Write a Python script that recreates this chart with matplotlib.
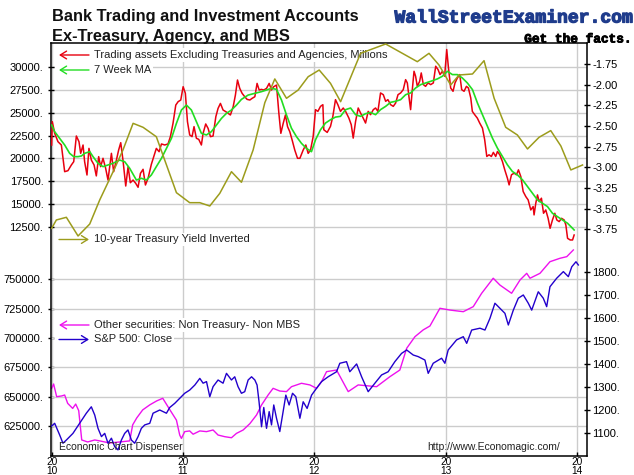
import matplotlib
matplotlib.use("Agg")
import matplotlib.pyplot as plt
from matplotlib.patches import Rectangle
from matplotlib.transforms import blended_transform_factory
import matplotlib.patheffects as pe

plt.rcParams['font.family'] = ['Liberation Sans', 'DejaVu Sans']

# ---------------- data (decimal year, value) ----------------
trading_assets = [
    (2010.000, 21467), (2010.005, 24009), (2010.023, 22738), (2010.048, 21830), (2010.074, 21467),
    (2010.099, 18562), (2010.124, 18670), (2010.150, 19290), (2010.168, 19650), (2010.188, 22450),
    (2010.208, 21830), (2010.221, 20560), (2010.239, 21467), (2010.251, 19650), (2010.269, 18200),
    (2010.284, 21100), (2010.302, 19830), (2010.323, 19290), (2010.340, 18100), (2010.358, 20200),
    (2010.373, 19110), (2010.391, 20020), (2010.411, 18930), (2010.429, 17650), (2010.455, 20560),
    (2010.472, 18560), (2010.493, 19830), (2010.510, 20920), (2010.526, 21720), (2010.543, 19830),
    (2010.564, 17000), (2010.582, 19110), (2010.599, 17360), (2010.620, 17650), (2010.640, 17290),
    (2010.658, 16860), (2010.676, 18380), (2010.696, 18820), (2010.714, 17110), (2010.734, 17840),
    (2010.759, 19360), (2010.777, 20200), (2010.797, 21100), (2010.818, 20740), (2010.836, 21580),
    (2010.861, 21470), (2010.886, 21580), (2010.904, 22380), (2010.924, 23830), (2010.945, 25820),
    (2010.963, 26190), (2010.983, 26370), (2011.001, 27820), (2011.018, 27100), (2011.034, 24010),
    (2011.051, 22560), (2011.069, 22380), (2011.084, 23470), (2011.102, 22200), (2011.120, 22080),
    (2011.140, 21470), (2011.153, 22740), (2011.173, 23760), (2011.191, 23280), (2011.209, 22380),
    (2011.229, 22450), (2011.250, 24550), (2011.267, 25460), (2011.285, 26000), (2011.305, 25280),
    (2011.326, 25100), (2011.343, 24920), (2011.361, 24740), (2011.382, 25640), (2011.399, 26910),
    (2011.415, 28550), (2011.432, 27640), (2011.450, 27100), (2011.470, 26730), (2011.488, 26440),
    (2011.509, 26370), (2011.526, 26550), (2011.547, 26730), (2011.564, 28180), (2011.580, 27460),
    (2011.597, 27530), (2011.615, 27460), (2011.636, 27640), (2011.656, 28180), (2011.674, 27460),
    (2011.691, 27820), (2011.712, 28000), (2011.730, 24920), (2011.745, 22740), (2011.763, 23830),
    (2011.780, 24740), (2011.796, 23470), (2011.813, 22920), (2011.831, 22010), (2011.851, 20920),
    (2011.872, 20020), (2011.890, 20020), (2011.915, 20920), (2011.935, 21470), (2011.953, 20560),
    (2011.971, 20920), (2011.991, 22380),
    (2012.009, 25320), (2012.027, 25130), (2012.047, 25680), (2012.065, 25860), (2012.072, 23130),
    (2012.098, 22840), (2012.123, 23500), (2012.141, 24590), (2012.161, 26410), (2012.179, 25860),
    (2012.199, 25130), (2012.220, 25500), (2012.238, 25130), (2012.263, 24400), (2012.281, 23680),
    (2012.296, 22220), (2012.314, 24040), (2012.334, 25500), (2012.352, 24950), (2012.372, 24400),
    (2012.390, 23860), (2012.410, 25130), (2012.428, 24770), (2012.449, 25320), (2012.466, 25500),
    (2012.484, 25130), (2012.504, 27140), (2012.525, 26950), (2012.543, 26230), (2012.560, 26410),
    (2012.581, 25860), (2012.601, 25680), (2012.619, 26040), (2012.637, 26950), (2012.657, 27140),
    (2012.677, 27500), (2012.695, 28590), (2012.708, 28230), (2012.720, 26770), (2012.733, 25320),
    (2012.746, 27500), (2012.759, 29500), (2012.771, 28960), (2012.784, 27860), (2012.802, 28410),
    (2012.814, 29320), (2012.830, 28050), (2012.847, 27860), (2012.865, 28230), (2012.886, 28050),
    (2012.906, 28230), (2012.924, 30050), (2012.942, 29680), (2012.957, 29140), (2012.975, 29500),
    (2012.992, 28960), (2013.008, 31870), (2013.020, 30050), (2013.038, 27680), (2013.056, 27320),
    (2013.071, 28230), (2013.089, 28770), (2013.107, 29140), (2013.122, 27500), (2013.140, 27320),
    (2013.158, 27860), (2013.173, 27680), (2013.191, 26590), (2013.203, 25130), (2013.221, 24770),
    (2013.241, 24400), (2013.259, 23860), (2013.280, 23310), (2013.297, 22040), (2013.313, 20220),
    (2013.330, 20400), (2013.348, 20220), (2013.363, 20660), (2013.381, 20220), (2013.394, 20760),
    (2013.412, 20400), (2013.432, 19670), (2013.450, 18760), (2013.470, 17850), (2013.483, 17120),
    (2013.501, 18220), (2013.521, 18400), (2013.539, 18220), (2013.554, 18760), (2013.572, 18030),
    (2013.590, 16400), (2013.610, 15850), (2013.628, 15480), (2013.648, 14390), (2013.666, 14760),
    (2013.673, 13850), (2013.686, 15120), (2013.699, 16030), (2013.712, 15300), (2013.729, 15670),
    (2013.745, 14030), (2013.762, 14390), (2013.780, 13480), (2013.795, 12390), (2013.813, 13300),
    (2013.831, 14030), (2013.846, 13300), (2013.864, 13120), (2013.882, 13480), (2013.902, 13300),
    (2013.915, 12750), (2013.928, 11300), (2013.948, 11120), (2013.966, 11120), (2013.978, 11660),
]

ma_7week = [
    (2010.000, 23646), (2010.023, 22920), (2010.061, 22190), (2010.099, 21470), (2010.137, 20560),
    (2010.168, 20200), (2010.201, 20200), (2010.226, 20270), (2010.251, 20560), (2010.290, 20740),
    (2010.315, 20200), (2010.353, 19470), (2010.391, 19110), (2010.429, 19290), (2010.467, 19470),
    (2010.518, 19830), (2010.556, 19650), (2010.594, 18930), (2010.645, 17650), (2010.683, 17840),
    (2010.721, 17650), (2010.759, 18200), (2010.797, 19110), (2010.836, 20020), (2010.874, 21100),
    (2010.912, 22190), (2010.950, 23830), (2010.988, 25280), (2011.026, 25820), (2011.064, 25280),
    (2011.102, 24010), (2011.140, 22740), (2011.178, 22560), (2011.216, 22920), (2011.255, 23650),
    (2011.293, 24370), (2011.331, 24920), (2011.369, 25280), (2011.407, 25820), (2011.445, 26440),
    (2011.496, 26910), (2011.547, 27100), (2011.597, 27280), (2011.636, 27460), (2011.674, 27640),
    (2011.712, 27530), (2011.750, 26370), (2011.788, 24740), (2011.826, 23290), (2011.864, 22380),
    (2011.902, 21650), (2011.940, 21100), (2011.978, 20740),
    (2012.009, 22040), (2012.047, 23130), (2012.085, 23860), (2012.123, 24220), (2012.161, 24510),
    (2012.199, 24590), (2012.238, 25320), (2012.276, 25500), (2012.314, 24770), (2012.352, 24590),
    (2012.390, 24880), (2012.428, 25020), (2012.466, 24770), (2012.504, 25320), (2012.543, 25680),
    (2012.581, 26120), (2012.619, 26230), (2012.657, 26410), (2012.695, 26950), (2012.733, 27140),
    (2012.771, 27680), (2012.810, 28050), (2012.848, 28230), (2012.886, 28410), (2012.937, 28670),
    (2012.975, 28960), (2013.013, 29500), (2013.051, 29140), (2013.089, 29140), (2013.127, 28770),
    (2013.165, 28230), (2013.204, 27500), (2013.242, 26040), (2013.280, 24770), (2013.318, 23500),
    (2013.356, 22220), (2013.394, 21130), (2013.432, 20220), (2013.470, 19310), (2013.508, 18580),
    (2013.546, 18220), (2013.585, 17670), (2013.623, 16940), (2013.661, 16210), (2013.699, 15480),
    (2013.737, 15120), (2013.775, 14760), (2013.813, 14030), (2013.851, 13660), (2013.889, 13300),
    (2013.928, 12940), (2013.966, 12390), (2013.978, 12210),
]

yield_inverted = [
    (2010.000, -3.738), (2010.036, -3.637), (2010.112, -3.605), (2010.201, -3.831), (2010.290, -3.686),
    (2010.366, -3.395), (2010.480, -3.012), (2010.543, -2.790), (2010.620, -2.468), (2010.696, -2.516),
    (2010.797, -2.630), (2010.950, -3.307), (2011.051, -3.428), (2011.128, -3.428), (2011.204, -3.468),
    (2011.280, -3.315), (2011.369, -3.053), (2011.445, -3.181), (2011.534, -2.790), (2011.623, -2.218),
    (2011.699, -1.931), (2011.788, -2.165), (2011.877, -2.065), (2011.953, -1.904), (2012.037, -1.823),
    (2012.123, -1.984), (2012.200, -2.206), (2012.352, -1.621), (2012.543, -1.508), (2012.784, -1.722),
    (2012.873, -1.621), (2012.949, -1.762), (2013.038, -2.004), (2013.102, -1.883), (2013.204, -1.871),
    (2013.292, -1.710), (2013.369, -2.165), (2013.457, -2.516), (2013.546, -2.609), (2013.623, -2.778),
    (2013.711, -2.637), (2013.800, -2.556), (2013.877, -2.742), (2013.953, -3.032), (2014.042, -2.972),
]

other_securities = [
    (2010.000, 657100), (2010.015, 660800), (2010.038, 650000), (2010.076, 650600), (2010.099, 651400),
    (2010.122, 644300), (2010.160, 640000), (2010.183, 643700), (2010.206, 638100), (2010.229, 613100),
    (2010.274, 611400), (2010.328, 613100), (2010.366, 612300), (2010.442, 610500), (2010.518, 611400),
    (2010.594, 612300), (2010.617, 626000), (2010.648, 631900), (2010.693, 638700), (2010.747, 643000),
    (2010.800, 646400), (2010.846, 648600), (2010.899, 639000), (2010.950, 630000), (2010.975, 617300),
    (2010.988, 614400), (2011.013, 620200), (2011.051, 620800), (2011.077, 618000), (2011.128, 620800),
    (2011.179, 620200), (2011.229, 621600), (2011.267, 617300), (2011.318, 615900), (2011.369, 615000),
    (2011.407, 618700), (2011.458, 621600), (2011.509, 627000), (2011.560, 634400), (2011.598, 642900),
    (2011.648, 651400), (2011.686, 657100), (2011.737, 654800), (2011.788, 654300), (2011.826, 658500),
    (2011.902, 661400), (2011.966, 660000), (2012.017, 657100), (2012.055, 662800), (2012.093, 671300),
    (2012.169, 672700), (2012.258, 654300), (2012.334, 660000), (2012.474, 658500),
    (2012.575, 667000), (2012.651, 672700), (2012.703, 691200), (2012.766, 701100), (2012.829, 706900),
    (2012.880, 710200), (2012.956, 725300), (2013.032, 723800), (2013.134, 722400), (2013.210, 726700),
    (2013.274, 738100), (2013.362, 750900), (2013.413, 745100), (2013.502, 738100), (2013.566, 749400),
    (2013.617, 755100), (2013.642, 750900), (2013.718, 755100), (2013.794, 765000), (2013.870, 767900),
    (2013.922, 769300), (2013.972, 775000),
]

sp500_close = [
    (2010.000, 1129), (2010.023, 1141), (2010.061, 1090), (2010.086, 1054), (2010.112, 1068),
    (2010.162, 1097), (2010.213, 1141), (2010.264, 1185), (2010.302, 1213), (2010.328, 1177),
    (2010.353, 1119), (2010.379, 1083), (2010.404, 1097), (2010.429, 1054), (2010.455, 1076),
    (2010.480, 1039), (2010.505, 1025), (2010.531, 1068), (2010.556, 1097), (2010.581, 1112),
    (2010.607, 1068), (2010.632, 1054), (2010.658, 1083), (2010.683, 1119), (2010.709, 1134),
    (2010.747, 1141), (2010.772, 1185), (2010.823, 1199), (2010.874, 1185), (2010.899, 1210),
    (2010.937, 1228), (2010.975, 1250), (2011.013, 1272), (2011.051, 1286), (2011.090, 1308),
    (2011.128, 1337), (2011.153, 1316), (2011.179, 1323), (2011.204, 1257), (2011.229, 1301),
    (2011.267, 1330), (2011.305, 1316), (2011.331, 1359), (2011.369, 1330), (2011.394, 1344),
    (2011.419, 1301), (2011.445, 1272), (2011.470, 1279), (2011.496, 1330), (2011.522, 1344),
    (2011.547, 1330), (2011.564, 1308), (2011.579, 1235), (2011.598, 1126), (2011.615, 1210),
    (2011.636, 1119), (2011.656, 1192), (2011.674, 1134), (2011.691, 1221), (2011.712, 1163),
    (2011.737, 1105), (2011.758, 1177), (2011.783, 1264), (2011.808, 1221), (2011.834, 1272),
    (2011.859, 1257), (2011.890, 1163), (2011.915, 1235), (2011.945, 1206), (2011.979, 1264),
    (2012.017, 1294), (2012.055, 1323), (2012.105, 1344), (2012.169, 1366), (2012.194, 1403),
    (2012.245, 1410), (2012.270, 1366), (2012.322, 1400), (2012.360, 1344), (2012.410, 1279),
    (2012.461, 1316), (2012.512, 1352), (2012.562, 1366), (2012.613, 1410), (2012.664, 1446),
    (2012.703, 1461), (2012.753, 1439), (2012.791, 1432), (2012.842, 1417), (2012.867, 1359),
    (2012.905, 1403), (2012.969, 1425), (2012.994, 1403), (2013.019, 1461), (2013.083, 1505),
    (2013.134, 1519), (2013.160, 1490), (2013.198, 1548), (2013.261, 1556), (2013.299, 1548),
    (2013.337, 1599), (2013.375, 1665), (2013.413, 1643), (2013.451, 1621), (2013.477, 1570),
    (2013.515, 1635), (2013.553, 1687), (2013.591, 1701), (2013.629, 1665), (2013.655, 1635),
    (2013.705, 1715), (2013.743, 1687), (2013.769, 1650), (2013.794, 1737), (2013.845, 1774),
    (2013.896, 1803), (2013.934, 1781), (2013.960, 1824), (2013.992, 1846), (2014.010, 1832),
]

year_ticks = [2010, 2011, 2012, 2013, 2014]
top_left_ticks = [12500, 15000, 17500, 20000, 22500, 25000, 27500, 30000]
top_right_ticks = [-3.75, -3.5, -3.25, -3.0, -2.75, -2.5, -2.25, -2.0, -1.75]
bottom_left_ticks = [625000, 650000, 675000, 700000, 725000, 750000]
bottom_right_ticks = [1100, 1200, 1300, 1400, 1500, 1600, 1700, 1800]

label_trading = "Trading assets Excluding Treasuries and Agencies, Millions"
label_ma = "7 Week MA"
label_yield = "10-year Treasury Yield Inverted"
label_other = "Other securities: Non Treasury- Non MBS"
label_sp = "S&P 500: Close"

# ---------------- styling ----------------
C_RED = '#e8000f'
C_GREEN = '#22dd22'
C_OLIVE = '#9c9c1c'
C_MAG = '#ee11ee'
C_BLUE = '#2200cc'
C_GRID = '#cccccc'
FS_TICK = 8.0
FS_LEG = 8.0
FS_CREDIT = 7.45

W, H = 634, 475
fig = plt.figure(figsize=(W / 100, H / 100), dpi=100)


def fx(px):
    return px / W


def fy(py):
    return 1 - py / H


rect = [fx(51), fy(456), fx(587) - fx(51), fy(43) - fy(456)]
ax_bl = fig.add_axes(rect)
ax_br = fig.add_axes(rect, sharex=ax_bl)
ax_tl = fig.add_axes(rect, sharex=ax_bl)
ax_tr = fig.add_axes(rect, sharex=ax_bl)

for a in (ax_br, ax_tl, ax_tr):
    a.patch.set_visible(False)
    for s in a.spines.values():
        s.set_visible(False)
    a.tick_params(axis='x', bottom=False, labelbottom=False)

for s in ax_bl.spines.values():
    s.set_color('black')
    s.set_linewidth(1.1)

ax_bl.set_xlim(2009.995, 2014.076)
ax_bl.set_ylim(599438, 951346)
ax_br.set_ylim(998.3, 2800.7)
ax_tl.set_ylim(-12421, 32583)
ax_tr.set_ylim(-6.493, -1.496)

# x ticks
ax_bl.set_xticks(year_ticks)
ax_bl.set_xticklabels([f"{str(y)[:2]}\n{str(y)[2:]}" for y in year_ticks])
ax_bl.tick_params(axis='x', direction='in', length=3, width=1, pad=0.4, labelsize=7.3)
for lbl in ax_bl.get_xticklabels():
    lbl.set_linespacing(0.92)

# y ticks
ax_bl.set_yticks(bottom_left_ticks)
ax_bl.set_yticklabels([f"{v}." for v in bottom_left_ticks])
ax_tl.set_yticks(top_left_ticks)
ax_tl.set_yticklabels([f"{v}." for v in top_left_ticks])
ax_br.yaxis.tick_right()
ax_br.set_yticks(bottom_right_ticks)
ax_br.set_yticklabels([f"{v}." for v in bottom_right_ticks])
ax_tr.yaxis.tick_right()
ax_tr.set_yticks(top_right_ticks)
ax_tr.set_yticklabels([f"{v:.2f}" for v in top_right_ticks])
for a in (ax_bl, ax_tl):
    a.tick_params(axis='y', direction='inout', length=5, width=1, pad=3, labelsize=FS_TICK)
for a in (ax_br, ax_tr):
    a.tick_params(axis='y', direction='inout', length=5, width=1, pad=1.5, labelsize=FS_TICK)

# grid (all drawn in the bottom-most axes so it stays below every line)
ax_bl.grid(axis='x', color=C_GRID, lw=1)
ax_bl.set_axisbelow(True)
for v in bottom_left_ticks:
    ax_bl.axhline(v, color=C_GRID, lw=1, zorder=1)
tr_tl = blended_transform_factory(ax_bl.transAxes, ax_tl.transData)
for v in top_left_ticks:
    ax_bl.plot([0, 1], [v, v], transform=tr_tl, color=C_GRID, lw=1, zorder=1)

# legend backgrounds + entries
legend_rows = [
    (55, label_trading, C_RED, 'left'),
    (70, label_ma, C_GREEN, 'left'),
    (239.5, label_yield, C_OLIVE, 'right'),
    (325, label_other, C_MAG, 'left'),
    (339.5, label_sp, C_BLUE, 'right'),
]
for ypx, lab, col, direction in legend_rows:
    ax_bl.add_patch(Rectangle((fx(55), fy(ypx + 7)), fx(96) - fx(55), 14 / H,
                              transform=fig.transFigure, fc='white', ec='none', zorder=1.6))
    head, tail = (59, 89) if direction == 'left' else (89, 59)
    ax_bl.annotate('', xy=(fx(head), fy(ypx)), xytext=(fx(tail), fy(ypx)),
                   xycoords='figure fraction', textcoords='figure fraction',
                   arrowprops=dict(arrowstyle='->,head_length=0.45,head_width=0.28',
                                   color=col, lw=1.0, shrinkA=0, shrinkB=0), zorder=1.7)
    ax_bl.text(fx(94), fy(ypx), lab, transform=fig.transFigure, fontsize=FS_LEG, color='#222222',
               va='center', ha='left', zorder=1.8,
               bbox=dict(fc='white', ec='none', pad=1.2))

# series
ax_bl.plot([t for t, v in other_securities], [v for t, v in other_securities],
           color=C_MAG, lw=1.0, zorder=2)
ax_br.plot([t for t, v in sp500_close], [v for t, v in sp500_close],
           color=C_BLUE, lw=1.0, zorder=2)
ax_tl.plot([t for t, v in trading_assets], [v for t, v in trading_assets],
           color=C_RED, lw=1.1, zorder=2)
ax_tl.plot([t for t, v in ma_7week], [v for t, v in ma_7week],
           color=C_GREEN, lw=1.2, zorder=3)
ax_tr.plot([t for t, v in yield_inverted], [v for t, v in yield_inverted],
           color=C_OLIVE, lw=1.1, zorder=2)

# titles and credits
fig.text(fx(52), fy(16), "Bank Trading and Investment Accounts", fontsize=11.75,
         weight='bold', ha='left', va='center', color='#111111')
fig.text(fx(52), fy(36), "Ex-Treasury, Agency, and MBS", fontsize=11.75,
         weight='bold', ha='left', va='center', color='#111111')
fig.text(fx(631), fy(18), "WallStreetExaminer.com", family=['Liberation Mono', 'DejaVu Sans Mono'],
         weight='bold', fontsize=13, color='#1f3c8c', ha='right', va='center',
         path_effects=[pe.withStroke(linewidth=0.9, foreground='#1f3c8c')])
fig.text(fx(631), fy(39.5), "Get the facts.", family=['Liberation Mono', 'DejaVu Sans Mono'],
         weight='bold', fontsize=9.2, color='black', ha='right', va='center',
         path_effects=[pe.withStroke(linewidth=0.6, foreground='black')])
fig.text(fx(59), fy(447), "Economic Chart Dispenser", fontsize=FS_CREDIT, color='#222222',
         ha='left', va='center')
fig.text(fx(560), fy(446.5), "http://www.Economagic.com/", fontsize=FS_CREDIT, color='#222222',
         ha='right', va='center')

fig.savefig("out.png", dpi=100)
